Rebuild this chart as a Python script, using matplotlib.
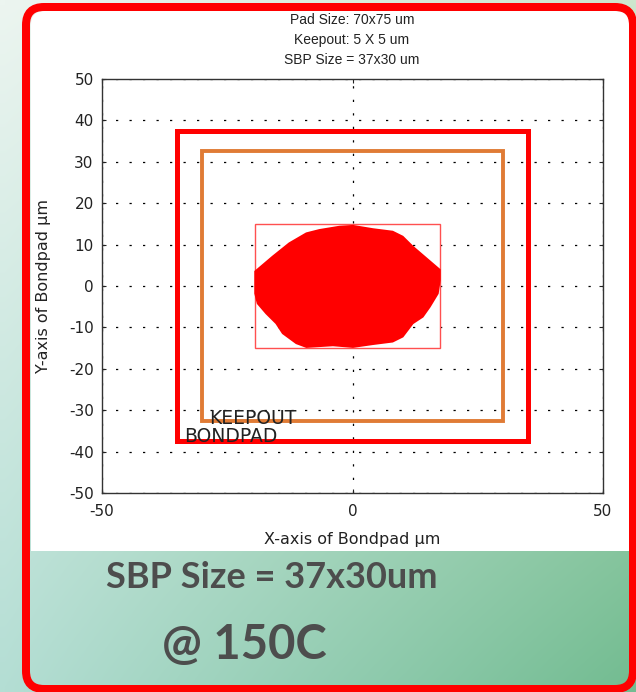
import numpy as np
import matplotlib
matplotlib.use("Agg")
import matplotlib.pyplot as plt
from matplotlib.patches import FancyBboxPatch, Rectangle, Polygon

plt.rcParams["axes.unicode_minus"] = False

# ---------------- data ----------------
title_lines = ["Pad Size: 70x75 um", "Keepout: 5 X 5 um", "SBP Size = 37x30 um"]
x_ticks = [-50, 0, 50]
y_ticks = [-50, -40, -30, -20, -10, 0, 10, 20, 30, 40, 50]
bondpad = [-35.0, 35.0, -37.5, 37.5]      # xmin, xmax, ymin, ymax
keepout = [-30.0, 30.0, -32.5, 32.5]
sbp_box = [-19.5, 17.5, -15.0, 15.0]
blob_x = [-19.4, -15.9, -12.6, -9.2, -6.6, -2.6, 0.1, 4.1, 8.0, 10.0, 12.0, 14.7,
          17.4, 17.4, 17.0, 15.4, 14.0, 12.0, 10.0, 8.0, 4.1, 0.1, -3.9, -9.2,
          -11.2, -13.9, -15.2, -17.2, -18.9, -19.4, -19.4]
blob_y = [3.5, 7.1, 10.3, 12.7, 13.5, 14.3, 14.5, 13.7, 13.1, 11.9, 9.5, 6.7,
          3.9, 1.4, -1.8, -5.0, -7.4, -9.0, -12.2, -13.4, -14.0, -14.7, -14.3, -14.7,
          -13.8, -11.4, -9.0, -6.6, -4.2, -1.8, 1.4]
label_keepout = "KEEPOUT"
label_bondpad = "BONDPAD"
caption1 = "SBP Size = 37x30um"
caption2 = "@ 150C"

W, H = 636, 692
fig = plt.figure(figsize=(W / 100, H / 100), dpi=100)

# ---------------- background ----------------
bg = fig.add_axes([0, 0, 1, 1])
bg.set_xlim(0, W)
bg.set_ylim(H, 0)
bg.axis("off")
tl = np.array([236, 245, 240]) / 255
tr = np.array([205, 230, 205]) / 255
bl = np.array([180, 222, 212]) / 255
br = np.array([115, 188, 145]) / 255
u = np.linspace(0, 1, 64)[None, :, None]
v = np.linspace(0, 1, 64)[:, None, None]
grad = (1 - v) * ((1 - u) * tl + u * tr) + v * ((1 - u) * bl + u * br)
bg.imshow(grad, extent=[0, W, H, 0], aspect="auto", interpolation="bilinear")

bg.add_patch(Rectangle((31, 30), 599, 521, facecolor="white", edgecolor="none"))
bg.add_patch(FancyBboxPatch((31, 11), 599, 60, boxstyle="round,pad=0,rounding_size=14",
                            facecolor="white", edgecolor="none"))
bg.add_patch(FancyBboxPatch((26, 7), 607, 682, boxstyle="round,pad=0,rounding_size=18",
                            fill=False, edgecolor="#ff0000", linewidth=8 * 0.72))

# title lines
for i, t in enumerate(title_lines):
    bg.text(352, 20 + 20 * i, t, ha="center", va="center", fontsize=10,
            family="Liberation Sans", color="#222222")

# captions
bg.text(272, 578, caption1, ha="center", va="center", fontsize=26,
        family="Lato", fontweight="bold", color="#4d4d4d")
bg.text(244, 645, caption2, ha="center", va="center", fontsize=34,
        family="Lato", fontweight="bold", color="#4d4d4d")

# ---------------- main axes ----------------
ax = fig.add_axes([102 / W, 1 - 493 / H, 501 / W, 414 / H])
ax.set_facecolor("white")
ax.set_xlim(-50, 50)
ax.set_ylim(-50, 50)
ax.set_xticks(x_ticks)
ax.set_yticks(y_ticks)
ax.grid(True, color="black", linestyle=(0, (1.8, 9)), linewidth=0.9)
ax.tick_params(direction="in", length=3, top=True, right=True,
               labelsize=11, colors="#222222")
ax.tick_params(axis="y", pad=6)
ax.tick_params(axis="x", pad=8)
for s in ax.spines.values():
    s.set_color("#333333")
    s.set_linewidth(1.0)

ax.add_patch(Rectangle((bondpad[0], bondpad[2]), bondpad[1] - bondpad[0],
                       bondpad[3] - bondpad[2], fill=False, edgecolor="#ff0000",
                       linewidth=3.6, zorder=3))
ax.add_patch(Rectangle((keepout[0], keepout[2]), keepout[1] - keepout[0],
                       keepout[3] - keepout[2], fill=False, edgecolor="#e07b35",
                       linewidth=2.8, zorder=3))
ax.add_patch(Rectangle((sbp_box[0], sbp_box[2]), sbp_box[1] - sbp_box[0],
                       sbp_box[3] - sbp_box[2], fill=False, edgecolor="#ff5050",
                       linewidth=1.0, zorder=3))
ax.add_patch(Polygon(np.column_stack([blob_x, blob_y]), closed=True,
                     facecolor="#ff0000", edgecolor="#ff0000", linewidth=1.5, zorder=4))

ax.text(-28.6, -31.9, label_keepout, ha="left", va="center", fontsize=13.5,
        color="#222222", zorder=5)
ax.text(-33.6, -36.4, label_bondpad, ha="left", va="center", fontsize=13.5,
        color="#222222", zorder=5)

ax.set_xlabel("X-axis of Bondpad μm", fontsize=11.5, color="#222222", labelpad=9)
ax.set_ylabel("Y-axis of Bondpad μm", fontsize=11.5, color="#222222", labelpad=13)

fig.savefig("out.png", dpi=100)
